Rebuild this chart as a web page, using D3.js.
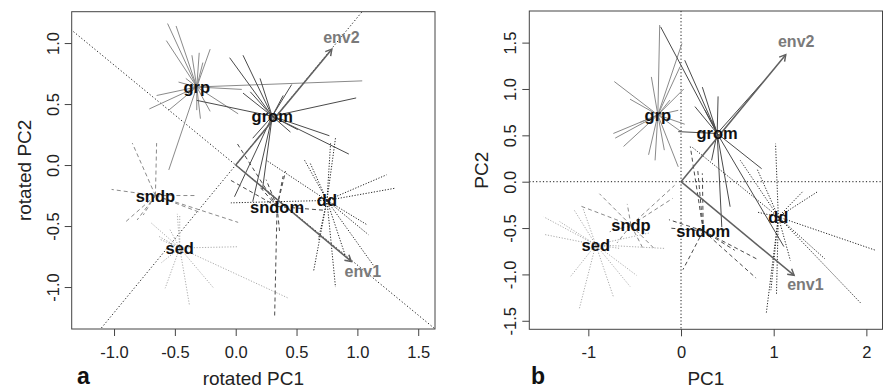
<!DOCTYPE html>
<html>
<head>
<meta charset="utf-8">
<script src="https://cdn.jsdelivr.net/npm/d3@7"></script>
<style>
  body { margin: 0; background: #fff; }
  svg { display: block; }
  text { font-family: "Liberation Sans", Arial, Helvetica, sans-serif; }
</style>
</head>
<body>
<svg id="chart" width="883" height="390"></svg>
<script>
// ---- groups and their group centroids ----
const groupNames = ["grp", "grom", "sndp", "sndom", "sed", "dd"];

// panel a: rotated PCA scores
const centroidsA = [[-0.32, 0.64], [0.30, 0.40], [-0.66, -0.25], [0.34, -0.34], [-0.46, -0.68], [0.75, -0.29]];
const samplesA_grp = [[-0.56, 1.16], [-0.49, 1.14], [-0.57, 1.02], [-0.36, 0.90], [-0.30, 0.92], [-0.21, 0.95], [-0.47, 0.68], [-0.65, 0.57], [-0.71, 0.46], [-0.55, 0.45], [-0.32, 0.45], [-0.29, 0.38], [-0.21, 0.44], [0.02, 0.42], [-0.55, -0.04], [0.05, 0.62], [1.04, 0.69], [-0.27, 0.84], [-0.41, 0.71]];
const samplesA_grom = [[-0.05, 0.88], [0.06, 0.90], [0.12, 0.60], [0.06, 0.59], [0.46, 0.66], [0.99, 0.55], [0.77, 0.24], [0.93, 0.09], [0.45, 0.27], [0.14, 0.22], [-0.32, 0.53], [-0.01, -0.26], [0.14, -0.30], [0.22, -0.20], [0.39, 0.57], [0.20, 0.71], [0.51, 0.29]];
const samplesA_sndp = [[-0.85, 0.18], [-0.65, 0.18], [-1.02, -0.20], [-0.32, -0.25], [-0.91, -0.47], [-0.81, -0.45], [-0.76, -0.41], [0.02, -0.47], [-0.29, -0.39]];
const samplesA_sndom = [[0.01, 0.18], [0.41, -0.05], [0.25, -0.12], [0.32, -1.24], [0.36, -0.54], [0.72, -0.37], [-0.05, -0.12], [0.19, -0.17], [0.39, -0.09]];
const samplesA_sed = [[-0.70, -0.47], [-0.62, -0.61], [-0.48, -0.40], [-0.46, -0.41], [0.01, -0.67], [-0.58, -1.01], [-0.38, -1.15], [-0.18, -1.01], [0.43, -1.09], [-0.61, -0.80], [-0.64, -0.58], [-0.54, -0.53]];
const samplesA_dd = [[0.56, 0.05], [0.82, 0.22], [1.24, -0.08], [1.31, -0.19], [1.08, -0.49], [1.09, -0.57], [1.13, -0.82], [0.82, -1.00], [0.64, -0.87], [-0.04, -0.31], [0.25, 0.04], [0.61, 0.02], [0.78, 0.18], [0.68, -0.61], [0.90, -0.74]];
const envA = [[0.95, -0.79], [0.79, 0.95]];
const rotatedAxisSlopesA = [-0.82, 1.21];

// panel b: unrotated PCA scores
const centroidsB = [[-0.25, 0.72], [0.39, 0.52], [-0.54, -0.47], [0.24, -0.53], [-0.92, -0.68], [1.05, -0.38]];
const samplesB_grp = [[-0.72, 1.08], [-0.55, 0.89], [-0.23, 1.69], [-0.32, 1.13], [0.01, 1.49], [-0.01, 1.24], [0.03, 1.00], [-0.73, 0.52], [-0.71, 0.47], [-0.62, 0.38], [-0.35, 0.29], [-0.18, 0.34], [-0.03, 0.16], [0.00, 0.54], [-0.03, 0.77], [0.04, 0.62], [-0.44, 0.64], [-0.12, 0.88], [-0.28, 0.23]];
const samplesB_grom = [[-0.22, 1.67], [0.04, 1.31], [0.23, 1.02], [0.15, 0.81], [0.40, 0.92], [-0.03, 0.54], [0.87, 0.14], [0.87, 1.06], [0.33, 0.23], [0.53, -0.27], [0.44, -0.49], [1.11, -0.70], [0.34, 0.66], [0.26, 0.77]];
const samplesB_sndp = [[-0.88, -0.13], [-1.09, -0.26], [-0.58, -0.24], [-0.07, -0.04], [-0.09, -0.18], [-0.41, -0.72], [-0.29, -0.72], [-0.69, -0.66], [-0.77, -0.54]];
const samplesB_sndom = [[0.10, 0.38], [0.23, 0.09], [0.02, -0.95], [0.83, -0.84], [0.81, -1.04], [-0.13, -0.41], [-0.13, -0.50], [0.18, 0.13], [0.58, -0.74]];
const samplesB_sed = [[-1.48, -0.38], [-1.47, -0.57], [-1.15, -0.31], [-1.19, -1.02], [-1.10, -1.38], [-0.73, -1.24], [-0.48, -1.01], [-0.55, -1.13], [-0.17, -0.72], [-1.06, -0.28], [-1.31, -0.43], [-0.33, -0.55], [-0.66, -0.72]];
const samplesB_dd = [[1.02, 0.41], [0.82, 0.14], [0.11, 0.38], [1.31, -0.11], [1.47, -0.11], [2.10, -0.74], [1.94, -1.31], [1.55, -0.83], [0.92, -1.42], [0.97, -1.17], [1.03, -1.22], [0.83, -0.33], [0.64, 0.23], [1.18, -0.85]];
const envB = [[1.22, -1.01], [1.13, 1.37]];

const envNames = ["env1", "env2"];

// axis ticks
const ticksA_x = [-1.0, -0.5, 0.0, 0.5, 1.0, 1.5];
const ticksA_y = [-1.0, -0.5, 0.0, 0.5, 1.0];
const ticksB_x = [-1, 0, 1, 2];
const ticksB_y = [-1.5, -1.0, -0.5, 0.0, 0.5, 1.0, 1.5];

// ---- line style for each group ----
const groupStyle = {
  grp:   { color: "#8a8a8a", dash: null },
  grom:  { color: "#4a4a4a", dash: null },
  sndp:  { color: "#8a8a8a", dash: "4,3" },
  sndom: { color: "#4a4a4a", dash: "4,3" },
  sed:   { color: "#ababab", dash: "1.2,1.6" },
  dd:    { color: "#262626", dash: "1.2,1.6" }
};

const svg = d3.select("#chart");
const FONT = "\"Liberation Sans\", Arial, Helvetica, sans-serif";

function drawPanel(cfg) {
  const x = d3.scaleLinear().domain(cfg.xDomain).range([cfg.left, cfg.right]);
  const y = d3.scaleLinear().domain(cfg.yDomain).range([cfg.bottom, cfg.top]);
  const g = svg.append("g");

  const clipId = "clip-" + cfg.id;
  svg.append("clipPath").attr("id", clipId)
    .append("rect")
    .attr("x", cfg.left).attr("y", cfg.top)
    .attr("width", cfg.right - cfg.left).attr("height", cfg.bottom - cfg.top);

  const plot = g.append("g").attr("clip-path", `url(#${clipId})`);

  // dotted reference lines
  const refs = plot.append("g")
    .attr("stroke", "#1a1a1a").attr("stroke-width", 1)
    .attr("stroke-dasharray", "1.2,2.2").attr("fill", "none");
  if (cfg.slopes) {
    cfg.slopes.forEach(s => {
      const x0 = cfg.xDomain[0] - 1, x1 = cfg.xDomain[1] + 1;
      refs.append("line")
        .attr("x1", x(x0)).attr("y1", y(s * x0))
        .attr("x2", x(x1)).attr("y2", y(s * x1));
    });
  } else {
    refs.append("line").attr("x1", x(0)).attr("x2", x(0)).attr("y1", cfg.top).attr("y2", cfg.bottom);
    refs.append("line").attr("x1", cfg.left).attr("x2", cfg.right).attr("y1", y(0)).attr("y2", y(0));
  }

  // spider rays from each centroid to its samples
  groupNames.forEach((name, i) => {
    const c = cfg.centroids[i];
    const st = groupStyle[name];
    plot.append("g").selectAll("line")
      .data(cfg.samples[i])
      .join("line")
      .attr("x1", x(c[0])).attr("y1", y(c[1]))
      .attr("x2", d => x(d[0])).attr("y2", d => y(d[1]))
      .attr("stroke", st.color)
      .attr("stroke-width", 1)
      .attr("stroke-dasharray", st.dash);
  });

  // environmental vectors
  const arrows = plot.append("g").attr("stroke", "#606060").attr("stroke-width", 1.5).attr("fill", "none");
  cfg.env.forEach(v => {
    const x0 = x(0), y0 = y(0), x1 = x(v[0]), y1 = y(v[1]);
    arrows.append("line").attr("x1", x0).attr("y1", y0).attr("x2", x1).attr("y2", y1);
    const ang = Math.atan2(y1 - y0, x1 - x0);
    const L = 7, w = Math.PI / 6;
    arrows.append("path").attr("d",
      `M${x1 - L * Math.cos(ang - w)},${y1 - L * Math.sin(ang - w)}L${x1},${y1}L${x1 - L * Math.cos(ang + w)},${y1 - L * Math.sin(ang + w)}`);
  });
  plot.append("g").selectAll("text")
    .data(cfg.env)
    .join("text")
    .attr("x", d => x(d[0] * 1.1)).attr("y", d => y(d[1] * 1.1))
    .attr("text-anchor", "middle").attr("dominant-baseline", "central")
    .attr("font-weight", "bold").attr("font-size", 16).attr("fill", "#7a7a7a")
    .text((d, i) => envNames[i]);

  // group labels at centroids
  g.append("g").selectAll("text")
    .data(cfg.centroids)
    .join("text")
    .attr("x", d => x(d[0])).attr("y", d => y(d[1]))
    .attr("text-anchor", "middle").attr("dominant-baseline", "central")
    .attr("font-weight", "bold").attr("font-size", 16.5).attr("fill", "#111")
    .text((d, i) => groupNames[i]);

  // frame
  g.append("rect")
    .attr("x", cfg.left).attr("y", cfg.top)
    .attr("width", cfg.right - cfg.left).attr("height", cfg.bottom - cfg.top)
    .attr("fill", "none").attr("stroke", "#444").attr("stroke-width", 1);

  // bottom axis
  const ax = g.append("g").attr("transform", `translate(0,${cfg.bottom})`)
    .call(d3.axisBottom(x).tickValues(cfg.xTicks).tickSize(7).tickPadding(10).tickFormat(cfg.xFmt));
  ax.select(".domain").remove();
  ax.selectAll("line").attr("stroke", "#444");
  ax.selectAll("text").attr("font-size", 16.5).attr("font-family", FONT).attr("fill", "#222");

  // left axis with rotated labels
  const ay = g.append("g").attr("transform", `translate(${cfg.left},0)`)
    .call(d3.axisLeft(y).tickValues(cfg.yTicks).tickSize(7).tickFormat(d => d.toFixed(1)));
  ay.select(".domain").remove();
  ay.selectAll("line").attr("stroke", "#444");
  ay.selectAll("text")
    .attr("x", null).attr("dy", null)
    .attr("transform", "translate(-13,0) rotate(-90)")
    .attr("text-anchor", "middle")
    .attr("font-size", 16.5).attr("font-family", FONT).attr("fill", "#222");

  // axis titles
  g.append("text")
    .attr("x", (cfg.left + cfg.right) / 2).attr("y", 385)
    .attr("text-anchor", "middle").attr("font-size", 19).attr("fill", "#222")
    .text(cfg.xTitle);
  g.append("text")
    .attr("transform", `translate(${cfg.yTitleX},${(cfg.top + cfg.bottom) / 2}) rotate(-90)`)
    .attr("text-anchor", "middle").attr("font-size", 19).attr("fill", "#222")
    .text(cfg.yTitle);

  // panel letter
  g.append("text")
    .attr("x", cfg.letterX).attr("y", 384)
    .attr("font-weight", "bold").attr("font-size", 23).attr("fill", "#111")
    .text(cfg.letter);
}

drawPanel({
  id: "a", left: 71.7, right: 435, top: 11.7, bottom: 329,
  xDomain: [-1.348, 1.638], yDomain: [-1.344, 1.257],
  centroids: centroidsA,
  samples: [samplesA_grp, samplesA_grom, samplesA_sndp, samplesA_sndom, samplesA_sed, samplesA_dd],
  env: envA, slopes: rotatedAxisSlopesA,
  xTicks: ticksA_x, yTicks: ticksA_y, xFmt: d => d.toFixed(1),
  xTitle: "rotated PC1", yTitle: "rotated PC2", yTitleX: 31,
  letter: "a", letterX: 77
});

drawPanel({
  id: "b", left: 529.3, right: 882.5, top: 11, bottom: 329.3,
  xDomain: [-1.637, 2.174], yDomain: [-1.592, 1.841],
  centroids: centroidsB,
  samples: [samplesB_grp, samplesB_grom, samplesB_sndp, samplesB_sndom, samplesB_sed, samplesB_dd],
  env: envB, slopes: null,
  xTicks: ticksB_x, yTicks: ticksB_y, xFmt: d => String(d),
  xTitle: "PC1", yTitle: "PC2", yTitleX: 488,
  letter: "b", letterX: 531
});
</script>
</body>
</html>
